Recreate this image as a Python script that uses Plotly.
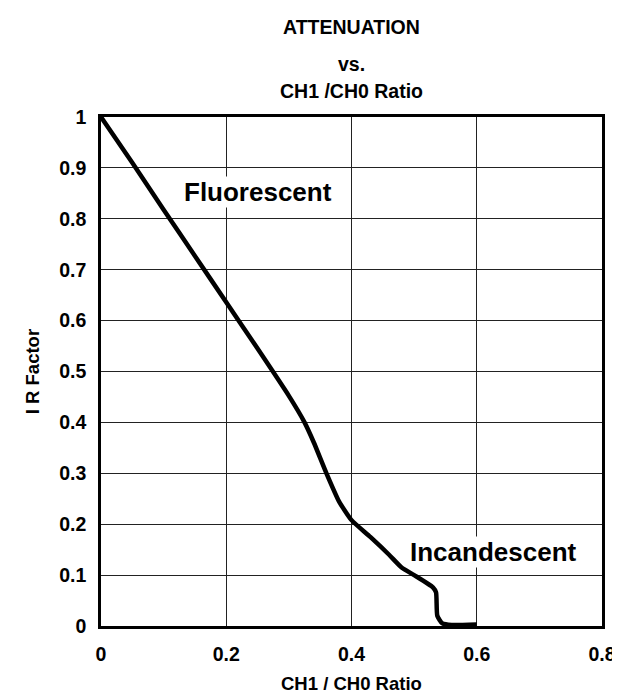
import plotly.graph_objects as go

# Data
ratio = [0.0, 0.05, 0.10, 0.15, 0.20, 0.25, 0.30, 0.325, 0.34, 0.36, 0.38, 0.40,
         0.43, 0.46, 0.48, 0.50, 0.53, 0.535, 0.537, 0.545, 0.56, 0.60]
ir_factor = [1.0, 0.91, 0.818, 0.727, 0.636, 0.545, 0.452, 0.40, 0.36, 0.30, 0.245, 0.208,
             0.175, 0.14, 0.115, 0.10, 0.076, 0.066, 0.02, 0.005, 0.002, 0.003]

x_ticks = [0, 0.2, 0.4, 0.6, 0.8]
x_labels = ["0", "0.2", "0.4", "0.6", "0.8"]
y_ticks = [0, 0.1, 0.2, 0.3, 0.4, 0.5, 0.6, 0.7, 0.8, 0.9, 1]
y_labels = ["0", "0.1", "0.2", "0.3", "0.4", "0.5", "0.6", "0.7", "0.8", "0.9", "1"]

title_lines = ["ATTENUATION", "vs.", "CH1 /CH0 Ratio"]
x_title = "CH1 / CH0 Ratio"
y_title = "I R Factor"
labels = ["Fluorescent", "Incandescent"]
label_x = [0.25, 0.626]
label_y = [0.852, 0.146]

FONT = "Liberation Sans, Arial, Helvetica, sans-serif"

fig = go.Figure()
fig.add_trace(go.Scatter(
    x=ratio, y=ir_factor, mode="lines",
    line=dict(color="black", width=4.5, shape="spline", smoothing=0.5),
    showlegend=False, hoverinfo="skip"))

W, H = 620, 696
L, R, T, B = 93, 17, 109, 78
pw, ph = W - L - R, H - T - B


def px_to_paper_y(py):
    return (H - B - py) / ph


def px_to_paper_x(px):
    return (px - L) / pw


annotations = []
title_py = [19, 56, 83]
for txt, py in zip(title_lines, title_py):
    annotations.append(dict(
        text="<b>%s</b>" % txt, xref="paper", yref="paper",
        x=0.5, y=px_to_paper_y(py), xanchor="center", yanchor="middle",
        showarrow=False, font=dict(family=FONT, size=19.5, color="black")))

# axis titles
annotations.append(dict(
    text="<b>%s</b>" % x_title, xref="paper", yref="paper",
    x=0.5, y=px_to_paper_y(675), xanchor="center", yanchor="middle",
    showarrow=False, font=dict(family=FONT, size=18.5, color="black")))
annotations.append(dict(
    text="<b>%s</b>" % y_title, xref="paper", yref="paper", textangle=-90,
    x=px_to_paper_x(23), y=px_to_paper_y(364), xanchor="center", yanchor="middle",
    showarrow=False, font=dict(family=FONT, size=18.5, color="black")))

for txt, ax_, ay_ in zip(labels, label_x, label_y):
    annotations.append(dict(
        text="<b>%s</b>" % txt, x=ax_, y=ay_, xref="x", yref="y",
        xanchor="center", yanchor="middle", showarrow=False,
        bgcolor="white", borderpad=0,
        font=dict(family=FONT, size=26, color="black")))

fig.update_layout(
    width=W, height=H,
    margin=dict(l=L, r=R, t=T, b=B),
    paper_bgcolor="white", plot_bgcolor="white",
    annotations=annotations,
    font=dict(family=FONT, color="black"),
    xaxis=dict(
        range=[0, 0.8], tickvals=x_ticks, ticktext=["<b>%s</b>" % t for t in x_labels],
        showgrid=True, gridcolor="#222", gridwidth=1,
        showline=True, linecolor="black", linewidth=2.5, mirror=True,
        zeroline=False, ticks="", tickfont=dict(family=FONT, size=19.5),
        ticklabelstandoff=9, fixedrange=True),
    yaxis=dict(
        range=[0, 1], tickvals=y_ticks, ticktext=["<b>%s</b>" % t for t in y_labels],
        showgrid=True, gridcolor="#222", gridwidth=1,
        showline=True, linecolor="black", linewidth=2.5, mirror=True,
        zeroline=False, ticks="", tickfont=dict(family=FONT, size=19.5),
        ticklabelstandoff=8, fixedrange=True),
)

fig.write_html("out.html")
